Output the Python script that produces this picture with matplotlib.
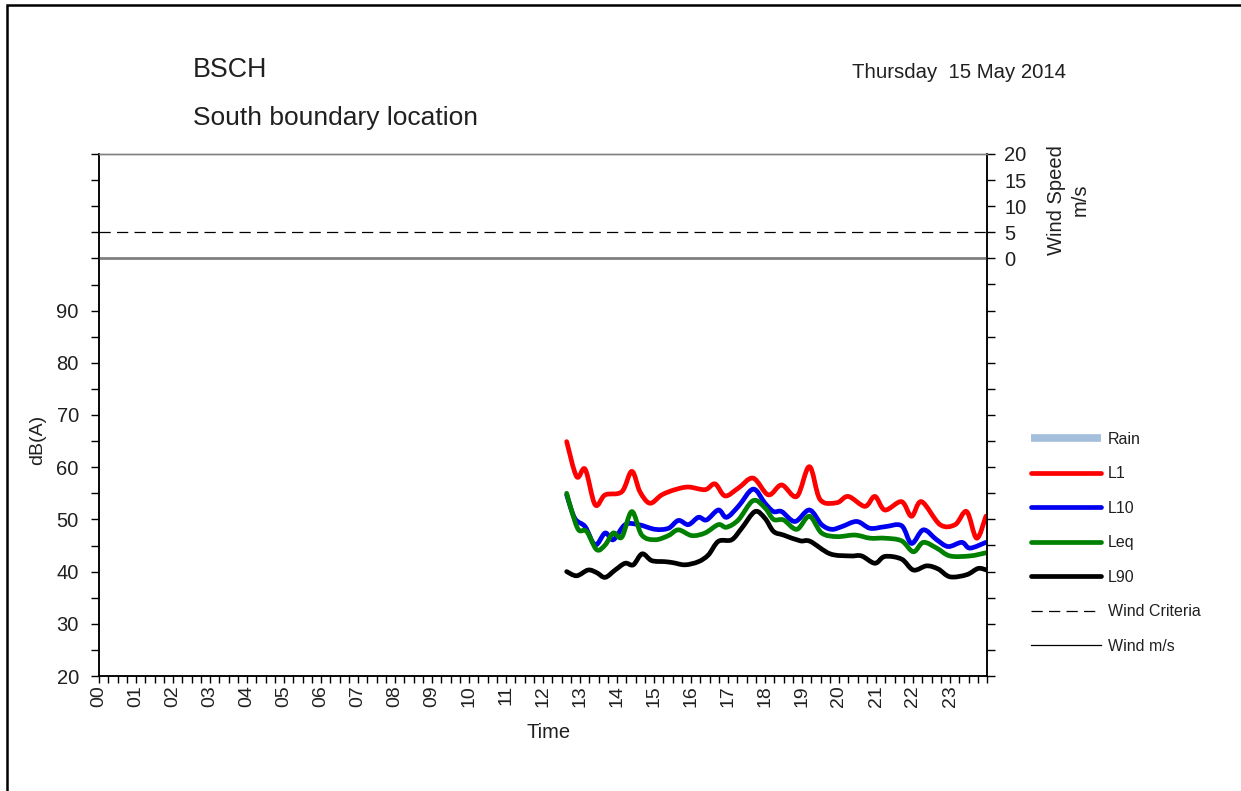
import matplotlib
matplotlib.use("Agg")
import matplotlib.pyplot as plt
from matplotlib.path import Path
from matplotlib.patches import PathPatch, Rectangle
from matplotlib.lines import Line2D
import numpy as np

plt.rcParams["font.family"] = ["Liberation Sans", "DejaVu Sans"]

# ---- noise levels, dB(A), by hour of day ----
l1_hours = [12.64, 12.91, 13.14, 13.41, 13.68, 14.13, 14.40, 14.62, 14.89, 15.21,
            15.57, 15.93, 16.38, 16.65, 16.92, 17.28, 17.68, 18.09, 18.45, 18.86,
            19.20, 19.49, 19.94, 20.25, 20.70, 20.97, 21.24, 21.69, 21.96, 22.23,
            22.73, 23.14, 23.45, 23.72, 23.97]
l1_db = [64.9, 58.2, 59.6, 52.8, 54.7, 55.3, 59.2, 55.3, 53.1, 54.7,
         55.7, 56.2, 55.7, 56.8, 54.5, 56.0, 57.9, 54.7, 56.6, 54.4,
         60.1, 53.8, 53.2, 54.4, 52.5, 54.4, 51.8, 53.4, 50.6, 53.4,
         49.0, 49.0, 51.5, 46.4, 50.6]

l10_hours = [12.64, 12.86, 13.14, 13.41, 13.68, 13.90, 14.22, 14.58, 15.03, 15.39,
             15.66, 15.93, 16.20, 16.42, 16.74, 16.96, 17.28, 17.68, 18.00, 18.23,
             18.45, 18.81, 19.20, 19.53, 19.80, 20.07, 20.48, 20.84, 21.24, 21.69,
             21.96, 22.28, 22.64, 22.95, 23.32, 23.54, 23.97]
l10_db = [54.7, 50.2, 48.6, 45.1, 47.4, 46.1, 49.0, 49.0, 48.1, 48.3,
          49.8, 49.0, 50.4, 49.9, 51.8, 50.4, 52.5, 55.8, 53.1, 51.5,
          51.5, 49.6, 51.8, 49.0, 48.1, 48.6, 49.6, 48.3, 48.6, 48.8,
          45.4, 48.0, 46.1, 44.8, 45.6, 44.5, 45.6]

leq_hours = [12.64, 12.78, 12.96, 13.18, 13.45, 13.68, 13.90, 14.13, 14.40, 14.67,
             15.03, 15.39, 15.66, 16.02, 16.38, 16.74, 16.96, 17.28, 17.68, 18.00,
             18.23, 18.50, 18.86, 19.20, 19.53, 19.94, 20.43, 20.84, 21.24, 21.69,
             22.01, 22.28, 22.64, 23.00, 23.54, 23.97]
leq_db = [55.0, 51.5, 48.0, 47.7, 44.2, 45.1, 47.4, 46.6, 51.5, 47.0,
          46.1, 46.9, 48.0, 46.9, 47.4, 49.0, 48.5, 49.9, 53.6, 52.2,
          50.0, 49.9, 48.1, 50.6, 47.4, 46.7, 47.0, 46.4, 46.4, 45.9,
          43.8, 45.6, 44.5, 43.0, 43.0, 43.6]

l90_hours = [12.64, 12.91, 13.22, 13.45, 13.68, 13.95, 14.22, 14.44, 14.68, 14.94,
             15.30, 15.52, 15.84, 16.20, 16.47, 16.74, 17.10, 17.37, 17.73, 18.00,
             18.23, 18.50, 18.95, 19.22, 19.76, 20.30, 20.61, 20.97, 21.24, 21.69,
             22.01, 22.37, 22.68, 23.00, 23.45, 23.76, 23.99]
l90_db = [40.0, 39.2, 40.3, 39.8, 38.9, 40.3, 41.6, 41.3, 43.4, 42.1,
          41.9, 41.7, 41.3, 41.9, 43.2, 45.8, 46.1, 48.3, 51.5, 50.2,
          47.7, 47.0, 45.9, 45.8, 43.4, 43.0, 43.0, 41.6, 42.9, 42.4,
          40.3, 41.1, 40.5, 39.0, 39.4, 40.6, 40.3]

# ---- wind ----
wind_hours = [0, 24]
wind_speed = [0, 0]
wind_criteria = 5

hour_labels = ["%02d" % h for h in range(24)]
db_ticks = list(range(20, 121, 5))
db_labelled = list(range(20, 91, 10))
wind_ticks = list(range(-80, 21, 5))
wind_labelled = [0, 5, 10, 15, 20]

series = [
    ("L1", l1_hours, l1_db, "#ff0000"),
    ("L10", l10_hours, l10_db, "#0000f0"),
    ("Leq", leq_hours, leq_db, "#008000"),
    ("L90", l90_hours, l90_db, "#000000"),
]

TEXT = "#202020"


def smooth_path(xs, ys):
    """Bezier path through the points (Catmull-Rom style smoothing)."""
    p = np.column_stack([xs, ys]).astype(float)
    n = len(p)
    verts = [p[0]]
    codes = [Path.MOVETO]
    for i in range(n - 1):
        p0 = p[i - 1] if i > 0 else p[i]
        p1 = p[i]
        p2 = p[i + 1]
        p3 = p[i + 2] if i + 2 < n else p[i + 1]
        c1 = p1 + (p2 - p0) / 6.0
        c2 = p2 - (p3 - p1) / 6.0
        verts += [c1, c2, p2]
        codes += [Path.CURVE4] * 3
    return Path(verts, codes)


fig = plt.figure(figsize=(12.41, 7.91), dpi=100)
W, H = 1241, 791

ax = fig.add_axes([99 / W, 1 - 676 / H, (987 - 99) / W, (676 - 154) / H])
ax.set_xlim(0, 24)
ax.set_ylim(20, 120)

for name, hx, vals, col in series:
    ax.add_patch(PathPatch(smooth_path(hx, vals), fill=False, edgecolor=col,
                           lw=3.4, capstyle="round", joinstyle="round", zorder=3))

# wind panel (shares the frame; 1 m/s per dB unit, 0 m/s at 100 dB)
ax2 = ax.twinx()
ax2.set_ylim(-80, 20)
ax2.plot(wind_hours, wind_speed, color="#808080", lw=2.0, zorder=2)
ax2.axhline(wind_criteria, color="black", lw=0.9, ls=(0, (9, 5)), zorder=2)

# x axis
ax.set_xticks(range(24))
ax.set_xticklabels(hour_labels, rotation=90, fontsize=14, color=TEXT)
ax.set_xticks(np.arange(0, 24.01, 0.25), minor=True)
ax.tick_params(axis="x", which="both", direction="out", length=5, width=1, pad=1.5)

# left axis
ax.set_yticks(db_ticks)
ax.set_yticklabels([str(v) if v in db_labelled else "" for v in db_ticks],
                   fontsize=14.5, color=TEXT)
ax.tick_params(axis="y", direction="out", length=5.5, width=1, pad=9)

# right axis
ax2.set_yticks(wind_ticks)
ax2.set_yticklabels([str(v) if v in wind_labelled else "" for v in wind_ticks],
                    fontsize=14.5, color=TEXT)
ax2.tick_params(axis="y", direction="out", length=5.5, width=1, pad=7)

for a in (ax, ax2):
    a.spines["top"].set_color("#808080")
    a.spines["top"].set_linewidth(1.0)
    for s in ("left", "right", "bottom"):
        a.spines[s].set_color("black")
        a.spines[s].set_linewidth(1.1)

# titles and axis labels
fig.text(193 / W, 1 - 70 / H, "BSCH", fontsize=19.3, color=TEXT, ha="left", va="center")
fig.text(193 / W, 1 - 118 / H, "South boundary location", fontsize=19, color=TEXT,
         ha="left", va="center")
fig.text(1066 / W, 1 - 73 / H, "Thursday  15 May 2014", fontsize=14.7, color=TEXT,
         ha="right", va="center")
fig.text(38 / W, 1 - 440 / H, "dB(A)", fontsize=14, color=TEXT, rotation=90,
         ha="center", va="center")
fig.text(549 / W, 1 - 733 / H, "Time", fontsize=14.5, color=TEXT, ha="center", va="center")
fig.text(1057 / W, 1 - 200 / H, "Wind Speed", fontsize=14.5, color=TEXT, rotation=90,
         ha="center", va="center")
fig.text(1080 / W, 1 - 200 / H, "m/s", fontsize=14.5, color=TEXT, rotation=90,
         ha="center", va="center")

# legend
handles = [Line2D([], [], color="#a4bfdc", lw=5.5, solid_capstyle="butt")]
labels = ["Rain"]
for name, hx, vals, col in series:
    handles.append(Line2D([], [], color=col, lw=3.4, solid_capstyle="round"))
    labels.append(name)
handles.append(Line2D([], [], color="black", lw=0.9, ls=(0, (9, 5))))
labels.append("Wind Criteria")
handles.append(Line2D([], [], color="black", lw=0.9))
labels.append("Wind m/s")
leg = fig.legend(handles, labels, loc="upper left",
                 bbox_to_anchor=(1023 / W, 1 - 424 / H), frameon=False,
                 fontsize=11.5, borderpad=0, handlelength=4.4, handletextpad=0.4,
                 labelspacing=1.22)
for t in leg.get_texts():
    t.set_color(TEXT)

# outer frame
fig.add_artist(Rectangle((7 / W, -0.05), 1.2, 1.05 - 4.5 / H, transform=fig.transFigure,
                         fill=False, ec="black", lw=1.8))

fig.savefig("out.png", dpi=100)
